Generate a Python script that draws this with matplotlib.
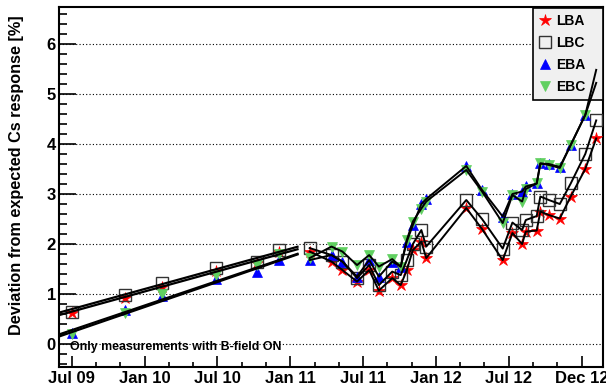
import numpy as np
import matplotlib
matplotlib.use("Agg")
import matplotlib.pyplot as plt
from matplotlib.lines import Line2D
from matplotlib.ticker import MultipleLocator

plt.rcParams["font.family"] = ["Liberation Sans", "DejaVu Sans"]
plt.rcParams["font.weight"] = "bold"

# months since 1 Jul 2009
months = [0.0, 4.4, 7.4, 11.9, 15.3, 17.05,
          19.6, 21.4, 22.3, 23.5, 24.5, 25.3, 26.4, 27.1, 27.6, 28.1, 28.8, 29.2,
          32.5, 33.8, 35.5, 36.3, 37.1, 37.4, 38.3, 38.6, 39.3, 40.2, 41.1, 42.3, 43.2]
n_fit = 6  # first points are described by a straight-line fit (B-field ON)

lba = [0.62, 0.93, 1.15, 1.47, 1.62, 1.85,
       1.85, 1.65, 1.48, 1.25, 1.48, 1.07, 1.32, 1.18, 1.48, 1.88, 2.05, 1.72,
       2.72, 2.30, 1.68, 2.22, 2.00, 2.25, 2.27, 2.65, 2.58, 2.51, 2.95, 3.50, 4.11]
lbc = [0.65, 0.98, 1.22, 1.52, 1.65, 1.88,
       1.92, 1.78, 1.65, 1.32, 1.58, 1.18, 1.45, 1.38, 1.68, 2.00, 2.28, 1.95,
       2.88, 2.50, 1.91, 2.43, 2.28, 2.48, 2.56, 2.95, 2.88, 2.80, 3.21, 3.80, 4.47]
eba = [0.22, 0.68, 0.97, 1.30, 1.45, 1.68,
       1.68, 1.78, 1.65, 1.35, 1.68, 1.35, 1.65, 1.55, 2.05, 2.38, 2.80, 2.90,
       3.56, 3.08, 2.55, 3.00, 3.05, 3.15, 3.21, 3.61, 3.60, 3.54, 3.98, 4.58, 5.48]
ebc = [0.20, 0.62, 1.00, 1.38, 1.58, 1.80,
       1.72, 1.95, 1.85, 1.58, 1.78, 1.55, 1.70, 1.55, 2.08, 2.45, 2.71, 2.85,
       3.48, 3.05, 2.42, 2.98, 2.85, 3.10, 3.21, 3.61, 3.58, 3.52, 3.98, 4.58, 5.22]

# linear fits over the first period: (intercept at Jul 09, slope per month)
fit_range = [-1.0, 18.6]
fit_lba = [0.65, 0.067]
fit_lbc = [0.70, 0.067]
fit_eba = [0.24, 0.0835]
fit_ebc = [0.28, 0.082]

tick_months = [0, 6, 12, 18, 24, 30, 36, 42]
tick_labels = ["Jul 09", "Jan 10", "Jul 10", "Jan 11", "Jul 11", "Jan 12", "Jul 12", "Dec 12"]

series = [
    ("LBA", lba, fit_lba, dict(marker="*", color="red", ms=9, mec="red", mew=0.5)),
    ("LBC", lbc, fit_lbc, dict(marker="s", color="none", ms=8, mec="#333333", mfc="none", mew=1.0)),
    ("EBA", eba, fit_eba, dict(marker="^", color="blue", ms=7.5, mec="blue", mew=0.5)),
    ("EBC", ebc, fit_ebc, dict(marker="v", color="#60d060", ms=7.5, mec="#60d060", mew=0.5)),
]

fig = plt.figure(figsize=(6.06, 3.89), dpi=100)
ax = fig.add_axes([59.3 / 606, 1 - 366.7 / 389, 543.7 / 606, 359.4 / 389])

m = np.array(months)
fx = np.array(fit_range)
handles = []
for name, vals, fit, st in series:
    v = np.array(vals)
    ax.plot(m, v, ls="none", zorder=3, **st)
    ax.plot(fx, fit[0] + fit[1] * fx, color="black", lw=1.6, zorder=6)
    ax.plot(m[n_fit:], v[n_fit:], color="black", lw=1.4, zorder=6)
    handles.append(Line2D([], [], ls="none", **st))

ax.set_xlim(-1.02, 43.76)
ax.set_ylim(-0.45, 6.73)

ax.set_xticks(tick_months)
ax.set_xticklabels(tick_labels)
ax.xaxis.set_minor_locator(MultipleLocator(2))
ax.yaxis.set_major_locator(MultipleLocator(1))
ax.yaxis.set_minor_locator(MultipleLocator(0.2))
ax.tick_params(axis="both", which="both", direction="in", labelsize=12, width=1.2)
ax.tick_params(axis="x", which="major", length=7.8, pad=3)
ax.tick_params(axis="x", which="minor", length=3.9)
ax.tick_params(axis="y", which="major", length=12, pad=2.5)
ax.tick_params(axis="y", which="minor", length=6)
for lab in ax.get_xticklabels() + ax.get_yticklabels():
    lab.set_fontweight("bold")

ax.yaxis.grid(True, which="major", color="black", ls=(0, (1, 2)), lw=0.8)
ax.set_axisbelow(True)
for sp in ax.spines.values():
    sp.set_linewidth(1.5)

fig.text(17 / 606, 1 - 15 / 389, "Deviation from expected Cs response [%]",
         rotation=90, ha="center", va="top", fontsize=11.7, fontweight="bold")
ax.text(0.0197, 0.0556, "Only measurements with B-field ON", transform=ax.transAxes,
        ha="left", va="center", fontsize=8.9, fontweight="bold")

leg = ax.legend(handles, [s[0] for s in series], loc="upper left",
                bbox_to_anchor=(0.871, 0.0, 0.129, 0.997), mode="expand",
                fontsize=10, markerscale=1.0,
                handlelength=1.0, handletextpad=0.3, labelspacing=0.58,
                borderpad=0.4, borderaxespad=0, frameon=True, fancybox=False)
leg.get_frame().set_facecolor("#f0f0f0")
leg.get_frame().set_edgecolor("black")
leg.get_frame().set_linewidth(1.2)
leg.get_frame().set_alpha(1)
leg.set_zorder(5)
for t in leg.get_texts():
    t.set_fontweight("bold")

fig.savefig("out.png", dpi=100)
